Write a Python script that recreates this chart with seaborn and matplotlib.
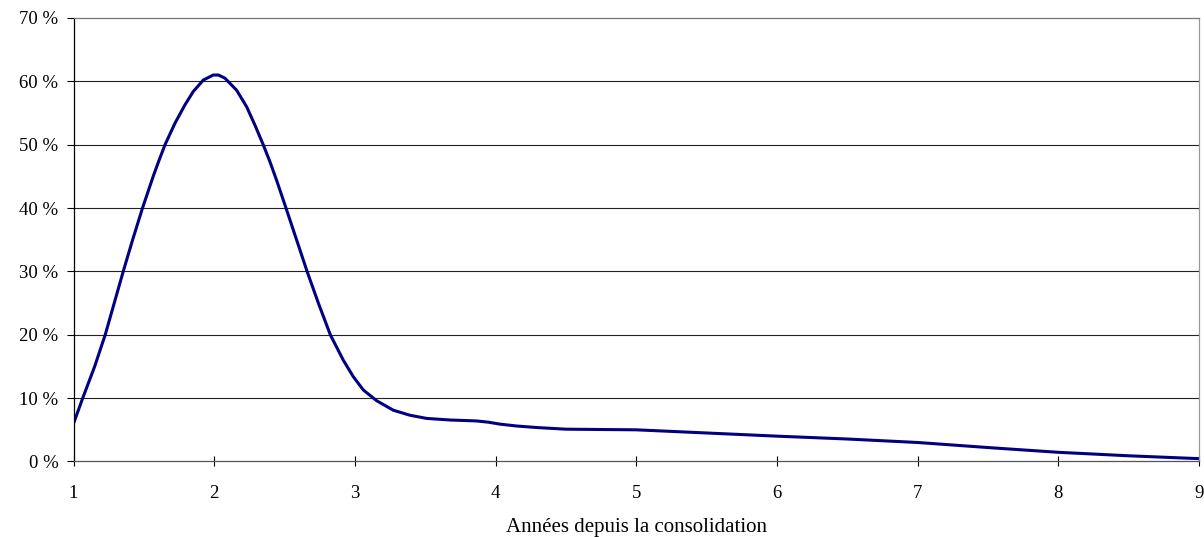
import pandas as pd
import seaborn as sns
import matplotlib.pyplot as plt
from matplotlib.ticker import FuncFormatter

# values (years, percent)
annees = [1.0, 1.065, 1.15, 1.225, 1.289, 1.353, 1.42, 1.49, 1.566, 1.602,
          1.65, 1.721, 1.792, 1.851, 1.922, 1.993, 2.03, 2.076, 2.159, 2.23,
          2.289, 2.348, 2.396, 2.443, 2.51, 2.585, 2.66, 2.74, 2.825, 2.917,
          2.988, 3.059, 3.154, 3.272, 3.391, 3.51, 3.675, 3.865, 3.95, 4.03,
          4.15, 4.3, 4.5, 4.75, 5.0, 5.5, 6.0, 6.5, 7.0, 7.5, 8.0, 8.5, 9.0]
pourcent = [6.0, 10.0, 15.0, 20.0, 25.0, 30.0, 35.0, 40.0, 45.0, 47.2,
            50.0, 53.4, 56.3, 58.4, 60.2, 61.0, 61.0, 60.5, 58.6, 56.0,
            53.1, 50.0, 47.3, 44.4, 40.0, 35.0, 30.0, 25.0, 20.0, 16.0,
            13.4, 11.3, 9.6, 8.1, 7.3, 6.8, 6.55, 6.4, 6.2, 5.9,
            5.6, 5.35, 5.1, 5.05, 5.0, 4.5, 4.0, 3.55, 3.0, 2.2, 1.45, 0.9, 0.45]
x_ticks = [1, 2, 3, 4, 5, 6, 7, 8, 9]
y_ticks = [0, 10, 20, 30, 40, 50, 60, 70]

df = pd.DataFrame({"annees": annees, "pourcent": pourcent})

sns.set_theme(style="white")
plt.rcParams['font.family'] = ['Liberation Serif', 'DejaVu Serif']
plt.rcParams['lines.solid_joinstyle'] = 'round'

fig = plt.figure(figsize=(12.04, 5.37), dpi=100)
ax = fig.add_axes([0.0611, 0.1406, 0.9348, 0.8259])

sns.lineplot(data=df, x="annees", y="pourcent", ax=ax, color="#000080",
             linewidth=2.2, sort=False)

ax.set_xlim(1, 9)
ax.set_ylim(0, 70)
ax.set_xticks(x_ticks)
ax.set_yticks(y_ticks)
ax.yaxis.set_major_formatter(FuncFormatter(lambda v, p: f"{int(v)} %"))

for v in y_ticks[1:-1]:
    ax.axhline(v, color="#222222", linewidth=0.8, zorder=0)

ax.spines["left"].set_color("black")
ax.spines["bottom"].set_color("#555555")
ax.spines["top"].set_color("#777777")
ax.spines["right"].set_color("#999999")
for s in ax.spines.values():
    s.set_linewidth(0.9)

ax.tick_params(axis="y", direction="out", length=5, width=0.8, pad=6,
               labelsize=13.5, left=True, color="black", labelcolor="black")
ax.tick_params(axis="x", direction="inout", length=7.2, width=0.8, pad=13,
               labelsize=13.5, bottom=True, color="black", labelcolor="black")

ax.set_xlabel("Années depuis la consolidation", fontsize=15, labelpad=12,
              color="black")
ax.set_ylabel("")

fig.savefig("out.png", dpi=100)
